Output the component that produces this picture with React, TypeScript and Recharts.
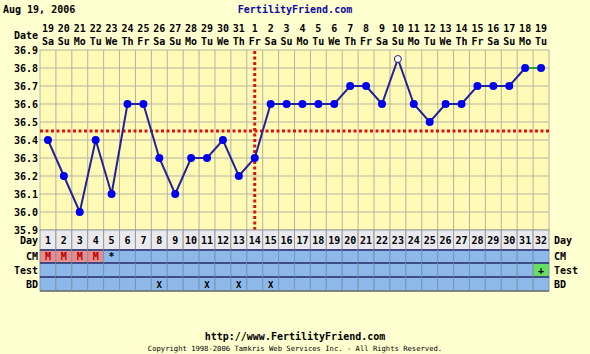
import React from 'react';
import { ComposedChart, Line, XAxis, YAxis, CartesianGrid, ReferenceLine } from 'recharts';

// cycle days and the calendar dates they fall on (Jul 19 - Aug 19)
const days = [1, 2, 3, 4, 5, 6, 7, 8, 9, 10, 11, 12, 13, 14, 15, 16, 17, 18, 19, 20, 21, 22, 23, 24, 25, 26, 27, 28, 29, 30, 31, 32];
const dates = [19, 20, 21, 22, 23, 24, 25, 26, 27, 28, 29, 30, 31, 1, 2, 3, 4, 5, 6, 7, 8, 9, 10, 11, 12, 13, 14, 15, 16, 17, 18, 19];
const weekdays = ['Sa', 'Su', 'Mo', 'Tu', 'We', 'Th', 'Fr', 'Sa', 'Su', 'Mo', 'Tu', 'We', 'Th', 'Fr', 'Sa', 'Su', 'Mo', 'Tu', 'We', 'Th', 'Fr', 'Sa', 'Su', 'Mo', 'Tu', 'We', 'Th', 'Fr', 'Sa', 'Su', 'Mo', 'Tu'];

// basal body temperature, one per day
const temps = [36.4, 36.2, 36.0, 36.4, 36.1, 36.6, 36.6, 36.3, 36.1, 36.3, 36.3, 36.4, 36.2, 36.3, 36.6, 36.6, 36.6, 36.6, 36.6, 36.7, 36.7, 36.6, 36.85, 36.6, 36.5, 36.6, 36.6, 36.7, 36.7, 36.7, 36.8, 36.8];
const openDays = [23];
const lastLinkedDay = 31;

// observation rows
const cmRow = ['M', 'M', 'M', 'M', '*', '', '', '', '', '', '', '', '', '', '', '', '', '', '', '', '', '', '', '', '', '', '', '', '', '', '', ''];
const testRow = ['', '', '', '', '', '', '', '', '', '', '', '', '', '', '', '', '', '', '', '', '', '', '', '', '', '', '', '', '', '', '', '+'];
const bdRow = ['', '', '', '', '', '', '', 'X', '', '', 'X', '', 'X', '', 'X', '', '', '', '', '', '', '', '', '', '', '', '', '', '', '', '', ''];

const tempTicks = [35.9, 36.0, 36.1, 36.2, 36.3, 36.4, 36.5, 36.6, 36.7, 36.8, 36.9];
const coverline = 36.45;
const ovulationDay = 14;

const W = 590;
const H = 354;
const PLOT_W = 509;
const CELL_W = PLOT_W / days.length;
const FONT = '"DejaVu Sans Mono", monospace';
const RED = '#dd1111';
const GRID = '#b4b4a0';

const data = days.map((d, i) => ({
  day: d,
  temp: d <= lastLinkedDay ? temps[i] : null,
  tail: d >= lastLinkedDay ? temps[i] : null,
}));

const txt = { fontFamily: FONT, fontSize: 10, fontWeight: 'bold' as const, fill: '#000' };

const TopTick = (props: any) => {
  const { x, y, payload } = props;
  const i = payload.value - 1;
  return (
    <g>
      <text x={x} y={y - 18} textAnchor="middle" {...txt}>{dates[i]}</text>
      <text x={x} y={y - 5} textAnchor="middle" {...txt}>{weekdays[i]}</text>
    </g>
  );
};

const BottomTick = (props: any) => {
  const { x, y, payload } = props;
  const i = payload.value - 1;
  const x0 = x - CELL_W / 2;
  const cm = cmRow[i];
  const test = testRow[i];
  const bd = bdRow[i];
  return (
    <g>
      <rect x={x0} y={y} width={CELL_W} height={20} fill="#e9e9ee" stroke="#9a9a9a" strokeWidth={1} />
      <text x={x} y={y + 14} textAnchor="middle" {...txt}>{payload.value}</text>
      <rect x={x0} y={y + 20} width={CELL_W} height={13} fill={cm === 'M' ? '#e88c8c' : '#8cb8ea'} stroke="#7a94b4" strokeWidth={1} />
      <text x={x} y={y + 30} textAnchor="middle" {...txt} fill={cm === 'M' ? '#b00000' : '#000'}>{cm}</text>
      <rect x={x0} y={y + 33} width={CELL_W} height={14} fill={test === '+' ? '#66dd66' : '#8cb8ea'} stroke="#7a94b4" strokeWidth={1} />
      <text x={x} y={y + 44} textAnchor="middle" {...txt}>{test}</text>
      <rect x={x0} y={y + 47} width={CELL_W} height={14} fill="#8cb8ea" stroke="#7a94b4" strokeWidth={1} />
      <text x={x} y={y + 58} textAnchor="middle" {...txt} fontSize={9}>{bd}</text>
      <line x1={x0} x2={x0 + CELL_W} y1={y + 20} y2={y + 20} stroke="#2a3070" strokeWidth={1.5} />
      <line x1={x0} x2={x0 + CELL_W} y1={y + 33} y2={y + 33} stroke="#2a3070" strokeWidth={1.5} />
      <line x1={x0} x2={x0 + CELL_W} y1={y + 47} y2={y + 47} stroke="#2a3070" strokeWidth={1.5} />
      <line x1={x0} x2={x0 + CELL_W} y1={y + 61} y2={y + 61} stroke="#707070" strokeWidth={1.5} />
    </g>
  );
};

const TempDot = (props: any) => {
  const { cx, cy, payload } = props;
  if (cx == null || cy == null || payload.temp == null) return <g key={`d-${payload.day}`} />;
  if (openDays.includes(payload.day)) {
    return <circle key={`d-${payload.day}`} cx={cx} cy={cy} r={3.5} fill="#fff" stroke="#202080" strokeWidth={1} />;
  }
  return <circle key={`d-${payload.day}`} cx={cx} cy={cy} r={4} fill="#0000ee" stroke="none" />;
};

const TailDot = (props: any) => {
  const { cx, cy, payload } = props;
  if (cx == null || cy == null || payload.day <= lastLinkedDay) return <g key={`t-${payload.day}`} />;
  return <circle key={`t-${payload.day}`} cx={cx} cy={cy} r={4} fill="#0000ee" stroke="none" />;
};

const sideLabels = [
  { label: 'Date', y: 39, left: true, right: false },
  { label: 'Day', y: 244, left: true, right: true },
  { label: 'CM', y: 260, left: true, right: true },
  { label: 'Test', y: 274, left: true, right: true },
  { label: 'BD', y: 288, left: true, right: true },
];

export default function App() {
  return (
    <div style={{ position: 'absolute', left: 0, top: 0, width: W, height: H, background: '#ffffcf' }}>
      <ComposedChart width={W} height={H} data={data} margin={{ top: 14, right: 0, bottom: 63, left: 0 }}>
        <CartesianGrid xAxisId="bottom" yAxisId="left" vertical={false} fill="#fffab6" stroke={GRID} strokeWidth={1} />
        <XAxis xAxisId="top" orientation="top" dataKey="day" type="number" domain={[0.5, 32.5]} ticks={days} interval={0}
          height={36} axisLine={false} tickLine={false} tickSize={0} tickMargin={0} tick={<TopTick />} />
        <XAxis xAxisId="bottom" orientation="bottom" dataKey="day" type="number" domain={[0.5, 32.5]} ticks={days} interval={0}
          height={61} axisLine={false} tickLine={false} tickSize={0} tickMargin={0} tick={<BottomTick />} />
        <YAxis yAxisId="left" orientation="left" width={40} domain={[35.9, 36.9]} ticks={tempTicks} interval={0}
          axisLine={false} tickLine={false} tickSize={0} tickMargin={2} tick={txt} tickFormatter={(v: number) => v.toFixed(1)} />
        <YAxis yAxisId="right" orientation="right" width={41} domain={[35.9, 36.9]} ticks={tempTicks} interval={0}
          axisLine={false} tickLine={false} tickSize={0} tickMargin={5} tick={txt} tickFormatter={(v: number) => v.toFixed(1)} />
        {days.map((d) => (
          <ReferenceLine key={`g-${d}`} xAxisId="bottom" yAxisId="left" x={d - 0.5} stroke={GRID} strokeWidth={1} />
        ))}
        <ReferenceLine xAxisId="bottom" yAxisId="left" x={days[days.length - 1] + 0.5} stroke={GRID} strokeWidth={1} />
        <ReferenceLine xAxisId="bottom" yAxisId="left" y={coverline} stroke={RED} strokeWidth={3} strokeDasharray="3 2.5" />
        <ReferenceLine xAxisId="bottom" yAxisId="left" x={ovulationDay} stroke={RED} strokeWidth={3} strokeDasharray="3 2.5" />
        <Line xAxisId="bottom" yAxisId="left" dataKey="tail" stroke="#22aa22" strokeWidth={2} dot={TailDot}
          activeDot={false} isAnimationActive={false} connectNulls={false} />
        <Line xAxisId="bottom" yAxisId="left" dataKey="temp" stroke="#22229c" strokeWidth={2} dot={TempDot}
          activeDot={false} isAnimationActive={false} connectNulls={false} />
      </ComposedChart>
      <svg width={W} height={H} style={{ position: 'absolute', left: 0, top: 0, pointerEvents: 'none' }}>
        <text x={3} y={13} {...txt}>Aug 19, 2006</text>
        <text x={295} y={13} textAnchor="middle" {...txt} fill="#0a0aa0">FertilityFriend.com</text>
        {sideLabels.map((s) => (
          <g key={s.label}>
            {s.left && <text x={38} y={s.y} textAnchor="end" {...txt}>{s.label}</text>}
            {s.right && <text x={554} y={s.y} {...txt}>{s.label}</text>}
          </g>
        ))}
        <text x={295} y={340} textAnchor="middle" {...txt}>http://www.FertilityFriend.com</text>
        <text x={295} y={351} textAnchor="middle" {...txt} fontSize={7.2} fontWeight="normal">Copyright 1998-2006 Tamkris Web Services Inc. - All Rights Reserved.</text>
      </svg>
    </div>
  );
}
